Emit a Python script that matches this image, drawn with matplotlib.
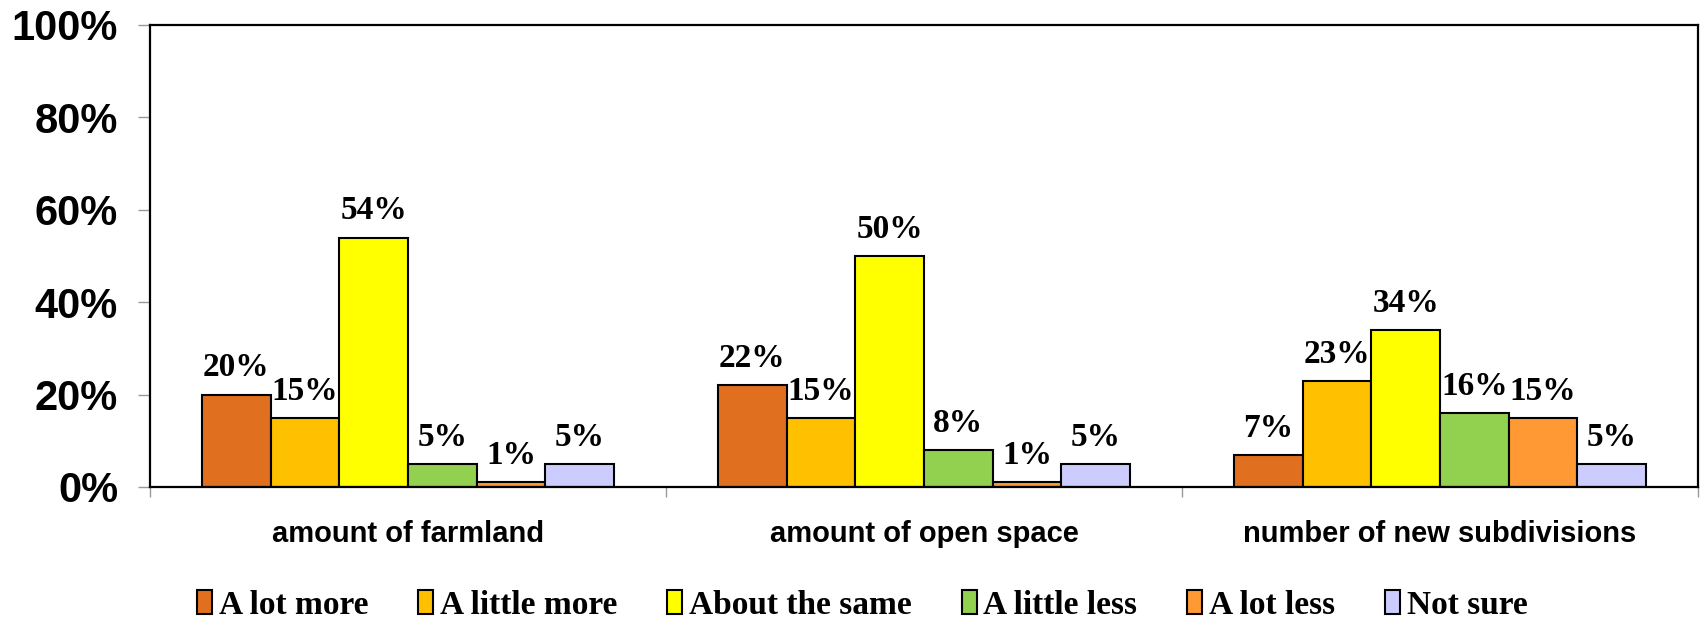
import matplotlib.pyplot as plt
import numpy as np
from matplotlib.ticker import FixedLocator, FuncFormatter

# data
categories = ["amount of farmland", "amount of open space", "number of new subdivisions"]
responses = ["A lot more", "A little more", "About the same", "A little less", "A lot less", "Not sure"]
a_lot_more = [20, 22, 7]
a_little_more = [15, 15, 23]
about_same = [54, 50, 34]
a_little_less = [5, 8, 16]
a_lot_less = [1, 1, 15]
not_sure = [5, 5, 5]
colors = ["#E07020", "#FFC000", "#FFFF00", "#92D050", "#FF9933", "#CCCCFF"]

series = [a_lot_more, a_little_more, about_same, a_little_less, a_lot_less, not_sure]

fig = plt.figure(figsize=(17.01, 6.2), dpi=100)
ax = fig.add_axes([150 / 1701, 1 - 487 / 620, 1548 / 1701, 462 / 620])

x = np.arange(len(categories))
w = 0.133
for i, (vals, lab) in enumerate(zip(series, responses)):
    pos = x + (i - 2.5) * w
    bars = ax.bar(pos, vals, w, color=colors[i], edgecolor="black", linewidth=1.5, label=lab)
    for b, v in zip(bars, vals):
        ax.annotate("{}%".format(v), (b.get_x() + b.get_width() / 2, v),
                    xytext=(0, 8), textcoords="offset points", ha="center", va="bottom",
                    fontsize=24, fontweight="bold", family="Liberation Serif")

ax.set_xlim(-0.5, 2.5)
ax.set_ylim(0, 100)
ax.yaxis.set_major_locator(FixedLocator([0, 20, 40, 60, 80, 100]))
ax.yaxis.set_major_formatter(FuncFormatter(lambda v, p: "{:.0f}%".format(v)))
ax.tick_params(axis="y", length=9, width=1, color="#999999", pad=14)
for t in ax.get_yticklabels():
    t.set_fontsize(30)
    t.set_fontweight("bold")
    t.set_family("Liberation Sans")

ax.set_xticks(x)
ax.set_xticklabels(categories, fontsize=21, fontweight="bold", family="Liberation Sans")
ax.tick_params(axis="x", which="major", length=0, pad=24)
ax.set_xticks([-0.5, 0.5, 1.5, 2.5], minor=True)
ax.tick_params(axis="x", which="minor", length=7, width=1, color="#999999", direction="out")

for s in ax.spines.values():
    s.set_linewidth(1.6)
    s.set_color("black")

leg = fig.legend(loc="center", bbox_to_anchor=(0.507, 0.024), ncol=6, frameon=False,
                 prop={"family": "Liberation Serif", "weight": "bold", "size": 24},
                 handlelength=0.45, handleheight=0.7, handletextpad=0.2, columnspacing=1.5)

fig.savefig("out.png", dpi=100)
